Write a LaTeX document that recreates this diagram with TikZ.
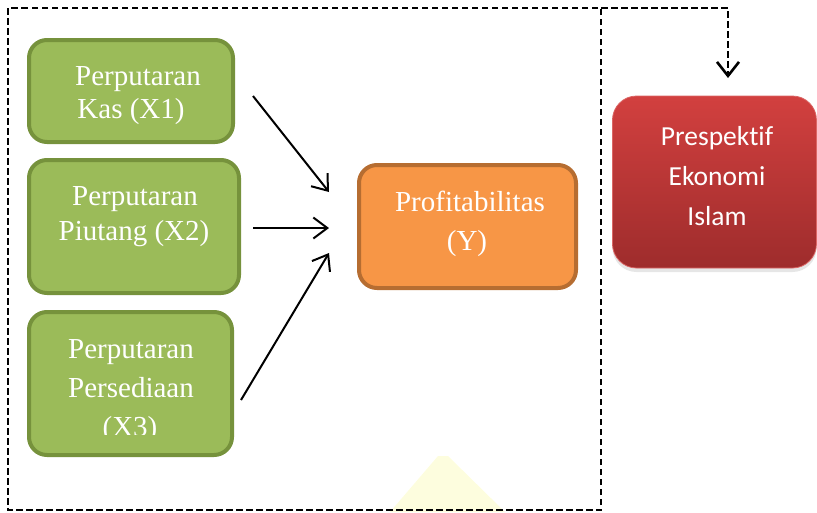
\documentclass[tikz,border=0pt]{standalone}
\usepackage{fontspec}
\setmainfont{Liberation Serif}
\newfontfamily\calib[Ligatures={NoCommon}]{Carlito}
\usetikzlibrary{arrows.meta,shadows}
\definecolor{gfill}{HTML}{9BBB59}
\definecolor{gline}{HTML}{76923C}
\definecolor{ofill}{HTML}{F79646}
\definecolor{oline}{HTML}{B66D31}
\definecolor{rtop}{RGB}{210,64,63}
\definecolor{rbot}{RGB}{158,44,44}
\definecolor{wmark}{RGB}{253,253,222}
\tikzset{
  gbox/.style={rectangle,rounded corners=18pt,draw=gline,fill=gfill,line width=4pt,inner sep=0pt},
  obox/.style={rectangle,rounded corners=18pt,draw=oline,fill=ofill,line width=4pt,inner sep=0pt},
  rbox/.style={rectangle,rounded corners=24pt,top color=rtop,bottom color=rbot,draw=rtop!80!white,line width=0.8pt,inner sep=0pt,
    drop shadow={shadow xshift=0pt,shadow yshift=-4pt,opacity=0.2}},
  ttxt/.style={anchor=base,text=white,inner sep=0pt,font=\fontsize{29}{35}\selectfont},
  ctxt/.style={anchor=base,text=white,inner sep=0pt,font=\calib\fontsize{27.5}{33}\selectfont},
  arr/.style={line width=2pt,-{Straight Barb[length=14pt,width=21pt]}},
  dline/.style={line width=2.6pt,dash pattern=on 6.5pt off 3.5pt},
}
\begin{document}
\begin{tikzpicture}[x=1pt,y=-1pt]
\useasboundingbox (0,0) rectangle (817,512);
% faint watermark
\fill[wmark] (390,512) -- (438,456) to[out=0,in=180] (448,456) -- (505,512) -- cycle;
% dashed frame
\draw[dline] (8,8) rectangle (601,510);
\coordinate (d0) at (601,8);
\coordinate (d1) at (728,8);
\coordinate (d2) at (728,78);
\draw[dline,-{Straight Barb[length=14pt,width=22pt]}] (d0) -- (d1) -- (d2);
% boxes
\node[gbox,minimum width=204pt,minimum height=102pt] (b1) at (131,91) {};
\node[gbox,minimum width=210pt,minimum height=133pt] (b2) at (134,226.5) {};
\node[gbox,minimum width=203pt,minimum height=143pt] (b3) at (130.5,383.5) {};
\node[obox,minimum width=217pt,minimum height=123pt] (y) at (467.5,226.5) {};
\node[rbox,minimum width=204pt,minimum height=172pt] (r) at (714.5,182) {};
% texts
\node[ttxt] (t1a) at (138,85) {Perputaran};
\node[ttxt] (t1b) at (131,118) {Kas (X1)};
\node[ttxt] (t2a) at (135,205) {Perputaran};
\node[ttxt] (t2b) at (134,240) {Piutang (X2)};
\node[ttxt] (t3a) at (131,358) {Perputaran};
\node[ttxt] (t3b) at (131,397) {Persediaan};
\begin{scope}
\clip (40,400) rectangle (220,434);
\node[ttxt] (t3c) at (130,436) {(X3)};
\end{scope}
\node[ttxt] (tya) at (470,211) {Profitabilitas};
\node[ttxt] (tyb) at (467,250) {(Y)};
\node[ctxt] (tra) at (717,145) {Prespektif};
\node[ctxt] (trb) at (717,185) {Ekonomi};
\node[ctxt] (trc) at (717,225) {Islam};
% arrows
\coordinate (a1s) at (253,96);
\coordinate (a1e) at (329,192);
\coordinate (a2s) at (253,228);
\coordinate (a2e) at (329,228);
\coordinate (a3s) at (241,400);
\coordinate (a3e) at (329,253);
\draw[arr] (a1s) -- (a1e);
\draw[arr] (a2s) -- (a2e);
\draw[arr] (a3s) -- (a3e);
\end{tikzpicture}
\end{document}
